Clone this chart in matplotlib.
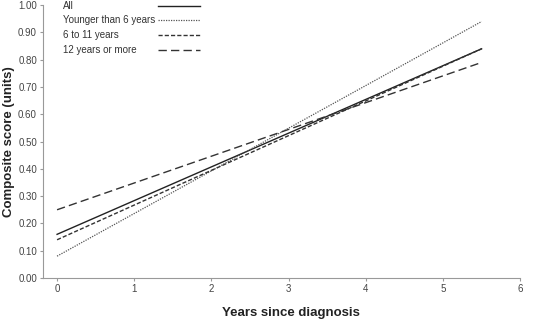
import matplotlib
matplotlib.use("Agg")
import matplotlib.pyplot as plt
import numpy as np

plt.rcParams['font.family'] = ['Liberation Sans', 'DejaVu Sans']

# end points of the fitted lines (years 0 and 5.5)
years = [0, 5.5]
all_grp = [0.16, 0.84]
younger6 = [0.08, 0.94]
six_to_11 = [0.14, 0.84]
twelve_plus = [0.25, 0.79]

labels = ['All', 'Younger than 6 years', '6 to 11 years', '12 years or more']
styles = [
    dict(color='#222222', lw=1.0, ls='-'),
    dict(color='#555555', lw=0.9, ls=(0, (1, 1))),
    dict(color='#333333', lw=1.0, ls=(0, (3, 1.5))),
    dict(color='#333333', lw=1.0, ls=(0, (6, 3))),
]

fig = plt.figure(figsize=(5.33, 3.21), dpi=100)
ax = fig.add_axes([0.081, 0.134, 0.895, 0.85])

for ys, lab, st in zip([all_grp, younger6, six_to_11, twelve_plus], labels, styles):
    ax.plot(years, ys, label=lab, **st)

ax.set_xlim(-0.18, 6)
ax.set_ylim(0, 1.0)
ax.set_xticks(range(7))
ax.set_yticks(np.arange(0, 1.01, 0.1))
ax.set_yticklabels(['%.2f' % v for v in np.arange(0, 1.01, 0.1)])

for s in ['top', 'right']:
    ax.spines[s].set_visible(False)
for s in ['left', 'bottom']:
    ax.spines[s].set_color('#999999')
    ax.spines[s].set_linewidth(0.8)
ax.tick_params(colors='#999999', labelcolor='#444444', labelsize=7, length=2.5, width=0.8, pad=2)

ax.set_xlabel('Years since diagnosis', fontsize=9.5, fontweight='bold', color='#222222')
ax.set_ylabel('Composite score (units)', fontsize=9.5, fontweight='bold', color='#222222')
ax.xaxis.set_label_coords(0.52, -0.108)
ax.yaxis.set_label_coords(-0.06, 0.5)

# legend: text on the left, line sample on the right
row_y = [0.998, 0.947, 0.891, 0.837]
for lab, st, yy in zip(labels, styles, row_y):
    ax.text(0.042, yy, lab, transform=ax.transAxes, fontsize=7, color='#333333',
            va='center', ha='left')
    ax.plot([0.241, 0.329], [yy, yy], transform=ax.transAxes, clip_on=False, **st)

fig.savefig('out.png', dpi=100)
